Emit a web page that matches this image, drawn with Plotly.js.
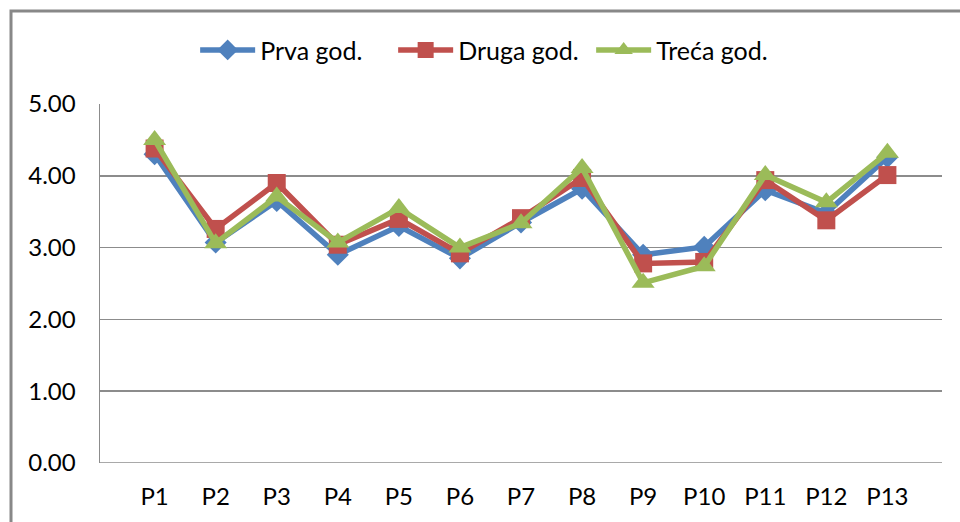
<!DOCTYPE html>
<html>
<head>
<meta charset="utf-8">
<script src="https://cdn.plot.ly/plotly-3.0.1.min.js"></script>
<style>html,body{margin:0;padding:0;background:#fff;}#chart{width:960px;height:522px;}</style>
</head>
<body>
<div id="chart"></div>
<script>
const categories = ["P1","P2","P3","P4","P5","P6","P7","P8","P9","P10","P11","P12","P13"];
const prvaGod  = [4.30, 3.07, 3.65, 2.90, 3.30, 2.85, 3.35, 3.82, 2.90, 3.01, 3.80, 3.48, 4.26];
const drugaGod = [4.38, 3.26, 3.90, 3.04, 3.40, 2.92, 3.41, 3.97, 2.78, 2.80, 3.94, 3.38, 4.01];
const trecaGod = [4.50, 3.06, 3.71, 3.07, 3.55, 3.00, 3.34, 4.11, 2.51, 2.74, 4.01, 3.63, 4.32];
const seriesNames = ["Prva god.", "Druga god.", "Treća god."];
const yTicks = [0, 1, 2, 3, 4, 5];

const FONT = "Lato, 'Liberation Sans', sans-serif";
const FS = 24;
const traces = [
  {x: categories, y: prvaGod, name: seriesNames[0], type: "scatter", mode: "lines+markers",
   line: {color: "#4F81BD", width: 5.5}, marker: {symbol: "diamond", size: 17, color: "#4F81BD"}},
  {x: categories, y: drugaGod, name: seriesNames[1], type: "scatter", mode: "lines+markers",
   line: {color: "#C0504D", width: 5.5}, marker: {symbol: "square", size: 18, color: "#C0504D"}},
  {x: categories, y: trecaGod, name: seriesNames[2], type: "scatter", mode: "lines+markers",
   line: {color: "#9BBB59", width: 5.5}, marker: {symbol: "triangle-up", size: 20, color: "#9BBB59"}}
];

const layout = {
  width: 960, height: 522,
  margin: {l: 100, r: 18, t: 104, b: 59},
  paper_bgcolor: "#fff", plot_bgcolor: "#fff",
  font: {family: FONT, size: FS, color: "#000"},
  showlegend: true,
  legend: {orientation: "h", x: 0.113, xanchor: "left", y: 1.15, yanchor: "middle",
           font: {family: FONT, size: 25, color: "#000"}, itemwidth: 55, tracegroupgap: 0,
           entrywidth: 128},
  xaxis: {type: "category", showgrid: false, zeroline: false, showline: false, ticks: "",
          ticklabelstandoff: 17, tickfont: {family: FONT, size: FS}, fixedrange: true},
  yaxis: {range: [0, 5], tickvals: yTicks, tickformat: ".2f", showgrid: true, gridcolor: "#8c8c8c",
          gridwidth: 1.5, zeroline: false, showline: true, linecolor: "#8c8c8c", linewidth: 1.5,
          ticks: "", ticklabelstandoff: 18, tickfont: {family: FONT, size: FS}, automargin: false},
  shapes: [
    {type: "line", xref: "paper", yref: "y", x0: 0, x1: 1, y0: 0, y1: 0,
     line: {color: "#8c8c8c", width: 1.5}},
    {type: "rect", xref: "paper", yref: "paper", x0: -0.1057, x1: 1.05, y0: -0.2, y1: 1.259,
     line: {color: "#888888", width: 3}, fillcolor: "rgba(0,0,0,0)", layer: "below"}
  ]
};
Plotly.newPlot("chart", traces, layout, {displayModeBar: false, staticPlot: true});
</script>
</body>
</html>
